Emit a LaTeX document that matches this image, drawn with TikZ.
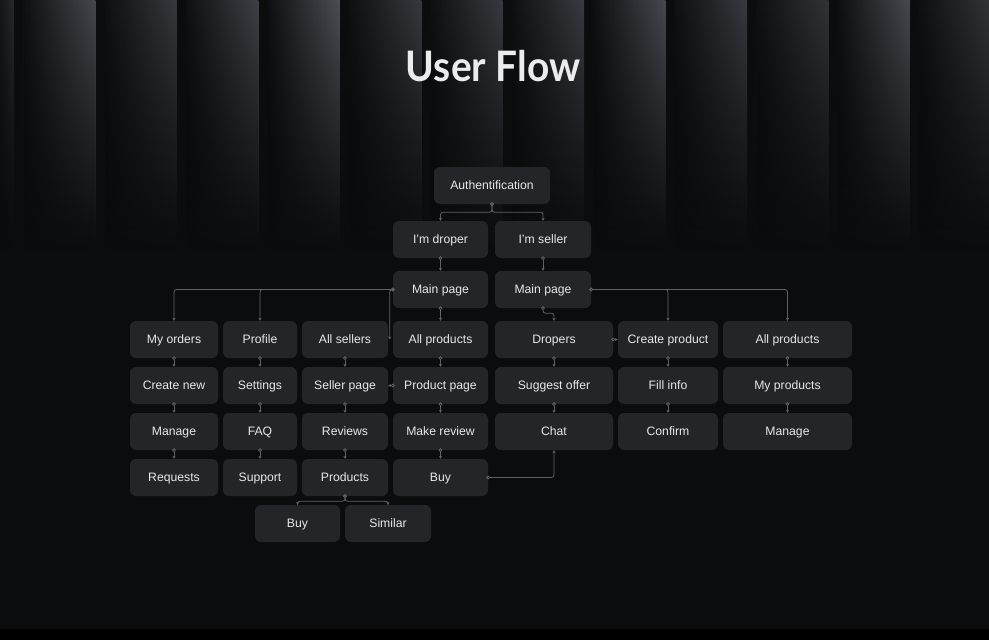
\documentclass[tikz,border=0pt]{standalone}
\usepackage{fontspec}
\setmainfont{Liberation Sans}
\newfontfamily\titlefont{Lato}
\usetikzlibrary{arrows.meta,fadings}
\definecolor{bg}{HTML}{0B0C0E}
\definecolor{stripeA}{HTML}{0F1013}
\definecolor{stripeM}{HTML}{1A1B1F}
\definecolor{stripeB}{HTML}{4C4E55}
\definecolor{boxc}{HTML}{242528}
\definecolor{txt}{HTML}{E8E8E9}
\definecolor{linec}{HTML}{606165}
\definecolor{titlec}{HTML}{ECECEE}
\tikzfading[name=stripefade, top color=transparent!0, middle color=transparent!62, bottom color=transparent!100]
\tikzset{
  box/.style={fill=boxc, rounded corners=6pt, text=txt, font=\fontsize{12.2}{14}\selectfont,
    minimum height=37pt, inner sep=0pt, text height=8.6pt, text depth=0pt, align=center},
  con/.style={draw=linec, line width=0.8pt,
    {Circle[open,length=3.6pt,width=3.6pt]}-{Stealth[length=3pt,width=3.2pt]},
    shorten <=-1.8pt, rounded corners=2.5pt},
}
\begin{document}
\begin{tikzpicture}[x=1pt,y=-1pt]
\useasboundingbox (0,0) rectangle (989,640);
\fill[bg] (0,0) rectangle (989,640);
% stripes (index, brightness in percent)
\fill[left color=stripeM!70!bg, right color=stripeB!45!bg, path fading=stripefade] (0,0) rectangle (14,250);
\foreach \i/\k in {0/90,1/68,2/80,3/100,4/68,5/70,6/72,7/92,8/70,9/60,10/92,11/62}{
  \pgfmathsetmacro\xa{14+81.45*\i+9.5}
  \pgfmathsetmacro\xb{14+81.45*(\i+1)}
  \fill[left color=stripeA, middle color=stripeM!\k!bg, right color=stripeB!\k!bg, path fading=stripefade] (\xa,0) rectangle (\xb,250);
}
\fill[black] (0,628.5) rectangle (989,640);
% title
\node[anchor=base, text=titlec, font=\titlefont\fontsize{42}{50}\selectfont\bfseries, inner sep=0pt] (title) at (493,81) {\scalebox{0.925}[1]{User Flow}};
% top nodes
\node[box, minimum width=116pt] (auth) at (492,185.5) {Authentification};
\node[box, minimum width=95pt] (drop) at (440.5,239.5) {I'm droper};
\node[box, minimum width=96pt] (sell) at (543,239.5) {I'm seller};
\node[box, minimum width=95pt] (mainL) at (440.5,289.5) {Main page};
\node[box, minimum width=96pt] (mainR) at (543,289.5) {Main page};
% column 1
\node[box, minimum width=88pt] (orders) at (174,339.5) {My orders};
\node[box, minimum width=88pt] (create) at (174,385.5) {Create new};
\node[box, minimum width=88pt] (manageA) at (174,431.5) {Manage};
\node[box, minimum width=88pt] (requests) at (174,477.5) {Requests};
% column 2
\node[box, minimum width=74pt] (profile) at (260,339.5) {Profile};
\node[box, minimum width=74pt] (settings) at (260,385.5) {Settings};
\node[box, minimum width=74pt] (faq) at (260,431.5) {FAQ};
\node[box, minimum width=74pt] (support) at (260,477.5) {Support};
% column 3
\node[box, minimum width=86pt] (sellers) at (345,339.5) {All sellers};
\node[box, minimum width=86pt] (sellerpage) at (345,385.5) {Seller page};
\node[box, minimum width=86pt] (reviews) at (345,431.5) {Reviews};
\node[box, minimum width=86pt] (products) at (345,477.5) {Products};
\node[box, minimum width=85pt] (buyB) at (297.5,523.5) {Buy};
\node[box, minimum width=86pt] (similar) at (388,523.5) {Similar};
% column 4
\node[box, minimum width=95pt] (allprodL) at (440.5,339.5) {All products};
\node[box, minimum width=95pt] (prodpage) at (440.5,385.5) {Product page};
\node[box, minimum width=95pt] (review) at (440.5,431.5) {Make review};
\node[box, minimum width=95pt] (buyA) at (440.5,477.5) {Buy};
% column 5
\node[box, minimum width=118pt] (dropers) at (554,339.5) {Dropers};
\node[box, minimum width=118pt] (offer) at (554,385.5) {Suggest offer};
\node[box, minimum width=118pt] (chat) at (554,431.5) {Chat};
% column 6
\node[box, minimum width=100pt] (cprod) at (668,339.5) {Create product};
\node[box, minimum width=100pt] (fill) at (668,385.5) {Fill info};
\node[box, minimum width=100pt] (confirm) at (668,431.5) {Confirm};
% column 7
\node[box, minimum width=129pt] (allprodR) at (787.5,339.5) {All products};
\node[box, minimum width=129pt] (myprod) at (787.5,385.5) {My products};
\node[box, minimum width=129pt] (manageB) at (787.5,431.5) {Manage};
% connectors
\draw[con] (auth.south) -- ++(0,8) -| (drop.north);
\draw[con] (auth.south) -- ++(0,8) -| (sell.north);
\draw[con] (drop.south) -- (mainL.north);
\draw[con] (sell.south) -- (mainR.north);
\draw[con] (mainL.south) -- (allprodL.north);
\draw[con] (mainR.south) -- ++(0,5) -| (dropers.north);
\draw[con] (mainL.west) -| (orders.north);
\draw[con] (mainL.west) -| (profile.north);
\draw[con] (mainL.west) -| ([xshift=1.5pt]sellers.east);
\draw[con] (mainR.east) -| (cprod.north);
\draw[con] (mainR.east) -| (allprodR.north);
\draw[con] (orders.south) -- (create.north);
\draw[con] (create.south) -- (manageA.north);
\draw[con] (manageA.south) -- (requests.north);
\draw[con] (profile.south) -- (settings.north);
\draw[con] (settings.south) -- (faq.north);
\draw[con] (faq.south) -- (support.north);
\draw[con] (sellers.south) -- (sellerpage.north);
\draw[con] (sellerpage.south) -- (reviews.north);
\draw[con] (reviews.south) -- (products.north);
\draw[con] (products.south) -- ++(0,5) -| (buyB.north);
\draw[con] (products.south) -- ++(0,5) -| (similar.north);
\draw[con] (allprodL.south) -- (prodpage.north);
\draw[con] (prodpage.south) -- (review.north);
\draw[con] (review.south) -- (buyA.north);
\draw[con] (prodpage.west) -- (sellerpage.east);
\draw[con] (dropers.south) -- (offer.north);
\draw[con] (offer.south) -- (chat.north);
\draw[con] (dropers.east) -- (cprod.west);
\draw[con] (buyA.east) -| (chat.south);
\draw[con] (cprod.south) -- (fill.north);
\draw[con] (fill.south) -- (confirm.north);
\draw[con] (allprodR.south) -- (myprod.north);
\draw[con] (myprod.south) -- (manageB.north);
\end{tikzpicture}
\end{document}
